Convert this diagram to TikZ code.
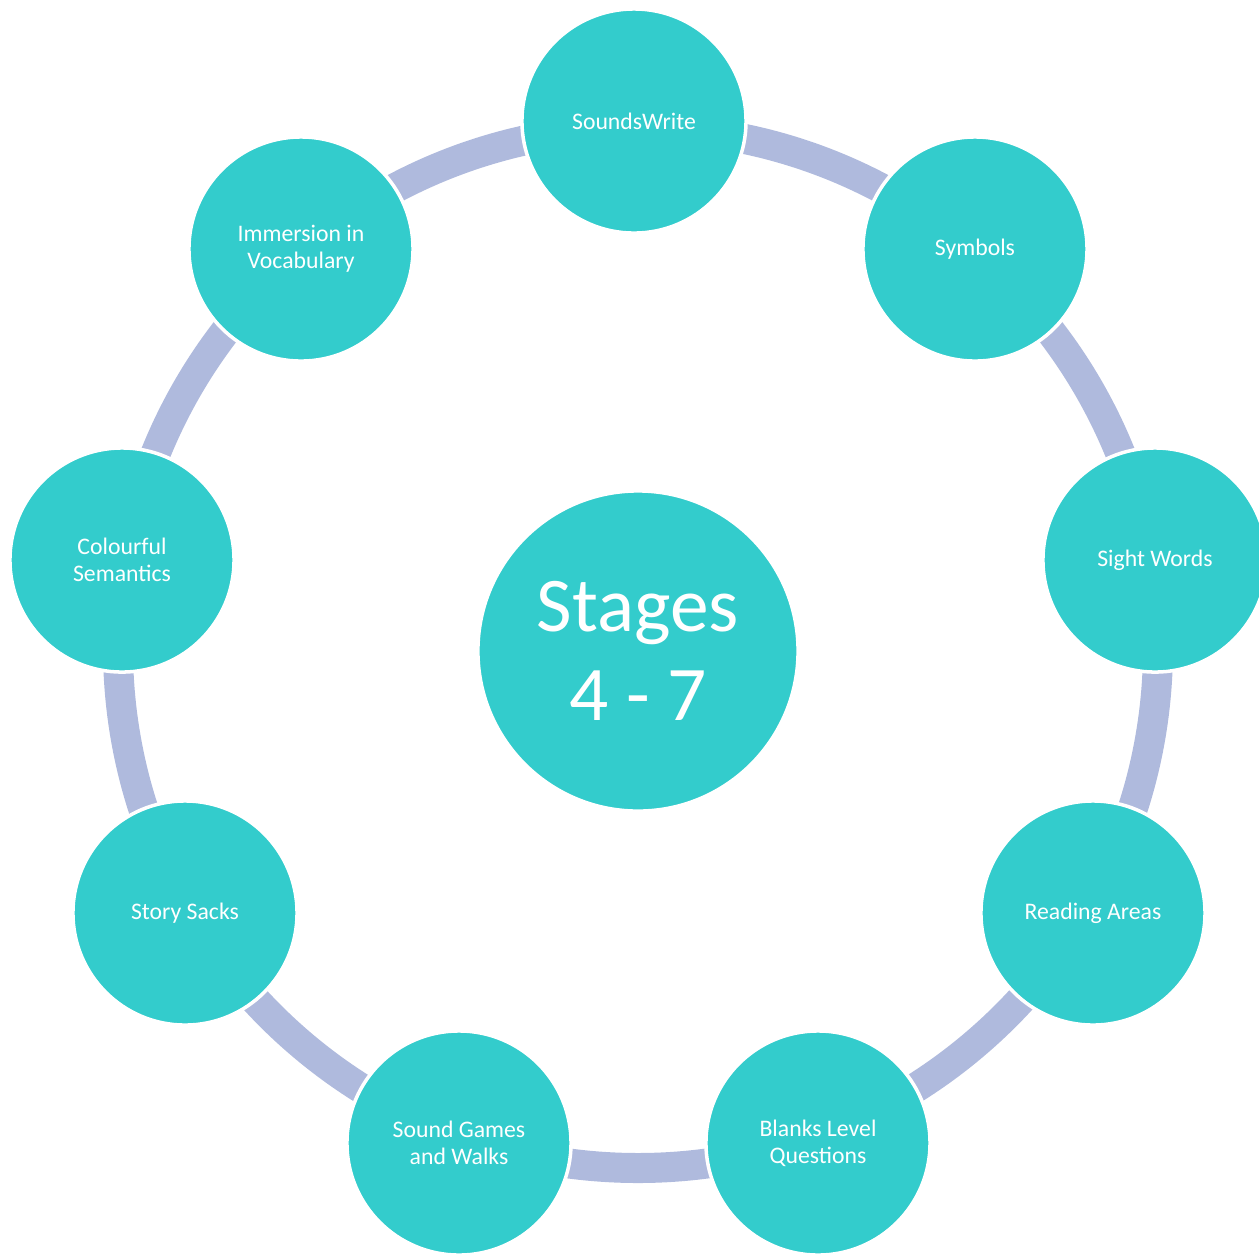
\documentclass[tikz,border=0pt]{standalone}
\usepackage{fontspec}
\setmainfont{Carlito}
\definecolor{teal}{HTML}{33CCCC}
\definecolor{band}{HTML}{AFBADD}
\begin{document}
\begin{tikzpicture}[x=0.01cm,y=-0.01cm,
  item/.style={circle,fill=teal,draw=white,line width=1pt,minimum size=2.24cm,inner sep=0pt,
    text=white,align=center,font=\fontsize{6.75}{7.6}\selectfont},
  hub/.style={circle,fill=teal,draw=white,line width=1pt,minimum size=3.2cm,inner sep=0pt,
    text=white,align=center,font=\fontsize{22}{25.5}\selectfont},
  ring/.style={draw=band,line width=0.3cm}]
\useasboundingbox (0,0) rectangle (1259,1256);
\coordinate (rc) at (638,648);
\draw[ring] (rc) circle[radius=520];
\node[hub] (c) at (638,651) {Stages\\4 - 7};
\node[item] (n1) at (634,121) {SoundsWrite};
\node[item] (n2) at (975,249) {Symbols};
\node[item] (n3) at (1155,560) {Sight Words};
\node[item] (n4) at (1093,913) {Reading Areas};
\node[item] (n5) at (818,1143) {Blanks Level\\Questions};
\node[item] (n6) at (459,1143) {Sound Games\\and Walks};
\node[item] (n7) at (185,913) {Story Sacks};
\node[item] (n8) at (122,560) {Colourful\\Semantics};
\node[item] (n9) at (301,249) {Immersion in\\Vocabulary};
\end{tikzpicture}
\end{document}
